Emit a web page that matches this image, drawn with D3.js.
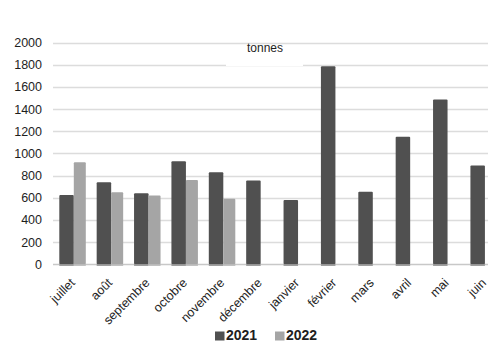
<!DOCTYPE html>
<html><head><meta charset="utf-8">
<script src="https://cdn.jsdelivr.net/npm/d3@7"></script>
<style>body{margin:0;background:#fff;}svg{display:block;font-family:"Liberation Sans",Arial,sans-serif;}</style>
</head><body>
<svg id="c" width="488" height="342"></svg>
<script>
const months = ["juillet","août","septembre","octobre","novembre","décembre","janvier","février","mars","avril","mai","juin"];
const series2021 = [625,740,640,930,830,755,580,1785,655,1150,1485,890];
const series2022 = [920,650,620,760,590,null,null,null,null,null,null,null];
const yTicks = [0,200,400,600,800,1000,1200,1400,1600,1800,2000];
const seriesNames = ["2021","2022"];
const colors = ["#505050","#a5a5a5"];
const unitLabel = "tonnes";

const svg = d3.select("#c");
const x = d3.scaleBand().domain(months).range([53, 501.5]).paddingInner(0).paddingOuter(0);
const y = d3.scaleLinear().domain([0,2000]).range([264.3, 42.5]);

// gridlines
svg.append("g").selectAll("line").data(yTicks).join("line")
  .attr("x1",53).attr("x2",488).attr("y1",d=>Math.round(y(d))+0.5).attr("y2",d=>Math.round(y(d))+0.5)
  .attr("stroke",d=>d===0?"#c8c8c8":"#dcdcdc").attr("stroke-width",1.5);

// unit label box
svg.append("rect").attr("x",226).attr("y",45).attr("width",77).attr("height",21).attr("fill","#fff");
svg.append("text").attr("x",247).attr("y",52).attr("font-size",12).attr("fill","#1e1e1e").text(unitLabel);

// y axis labels
const yAxis = d3.axisLeft(y).tickValues(yTicks).tickSize(0).tickPadding(0).tickFormat(d3.format("d"));
const ga = svg.append("g").attr("transform","translate(42,0)").call(yAxis);
ga.select(".domain").remove();
ga.selectAll("text").attr("font-size",12.5).attr("fill","#1e1e1e").attr("font-family","Liberation Sans, Arial, sans-serif");

const off = 6.3;
const w1 = 14.5, w2 = 12;
const gBars = svg.append("g");
months.forEach((m,i)=>{
  const x0 = x(m)+off;
  if (series2021[i]!=null){
    gBars.append("rect").attr("x",x0).attr("y",y(series2021[i])).attr("width",w1).attr("height",y(0)-y(series2021[i])).attr("fill",colors[0]).attr("rx",1);
    gBars.append("rect").attr("x",x0).attr("y",y(0)).attr("width",w1).attr("height",1.5).attr("fill","#8a8a8a");
  }
  if (series2022[i]!=null){
    gBars.append("rect").attr("x",x0+w1).attr("y",y(series2022[i])).attr("width",w2).attr("height",y(0)-y(series2022[i])).attr("fill",colors[1]).attr("rx",1);
    gBars.append("rect").attr("x",x0+w1).attr("y",y(0)).attr("width",w2).attr("height",1.5).attr("fill","#b5b5b5");
  }
});

// x labels
const xAxis = d3.axisBottom(x).tickSize(0).tickPadding(0);
const gx = svg.append("g").attr("transform","translate(0,270)").call(xAxis);
gx.select(".domain").remove();
gx.selectAll("text").attr("font-size",12.5).attr("fill","#1e1e1e").attr("font-family","Liberation Sans, Arial, sans-serif")
  .attr("text-anchor","end").attr("dy",0).attr("dx",0)
  .attr("transform","translate(4,13.5) rotate(-45)");

// legend
const leg = svg.append("g");
const legX = [215, 275];
seriesNames.forEach((s,i)=>{
  leg.append("rect").attr("x",legX[i]).attr("y",331.5).attr("width",9.5).attr("height",9).attr("fill",colors[i]);
  leg.append("text").attr("x",legX[i]+11).attr("y",340).attr("font-size",14).attr("font-weight","bold").attr("fill","#1e1e1e").text(s);
});
</script>
</body></html>
